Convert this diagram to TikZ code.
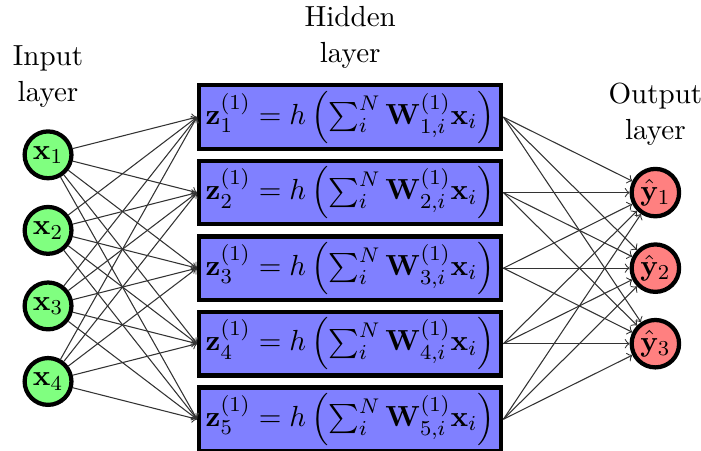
\documentclass[tikz,border=0pt,11pt]{standalone}
\usepackage{amsmath}
\begin{document}
\begin{tikzpicture}[
  innode/.style={circle, draw, ultra thick, fill=green!50, minimum size=0.62cm, inner sep=1pt},
  hidnode/.style={rectangle, draw, ultra thick, fill=blue!50, minimum width=4cm, minimum height=0.84cm, inner sep=1pt},
  outnode/.style={circle, draw, ultra thick, fill=red!50, minimum size=0.62cm, inner sep=1pt},
  laynode/.style={align=center, inner sep=1pt},
  conn/.style={->, black!80}]
\useasboundingbox (-0.636,-2.41) rectangle (8.644,3.55);

\foreach \i in {1,...,4}
  \node[innode] (x\i) at (0,2.5-\i) {$\mathbf{x}_{\i}$};

\foreach \j in {1,...,5}
  \node[hidnode] (h\j) at (4,3-\j)
    {$\mathbf{z}_{\j}^{(1)} = h\left(\sum_i^N \mathbf{W}^{(1)}_{\j,i}\mathbf{x}_i\right)$};

\foreach \k in {1,2,3}
  \node[outnode] (y\k) at (8.04,2-\k) {$\hat{\mathbf{y}}_{\k}$};

\foreach \i in {1,...,4}
  \foreach \j in {1,...,5}
    \draw[conn] (x\i) -- (h\j.west);

\foreach \j in {1,...,5}
  \foreach \k in {1,2,3}
    \draw[conn] (h\j.east) -- (y\k);

\node[laynode] (inlab) at ([yshift=1.04cm]x1) {Input\\layer};
\node[laynode] (hidlab) at ([yshift=1.06cm]h1) {Hidden\\layer};
\node[laynode] (outlab) at ([yshift=1.04cm]y1) {Output\\layer};
\end{tikzpicture}
\end{document}
